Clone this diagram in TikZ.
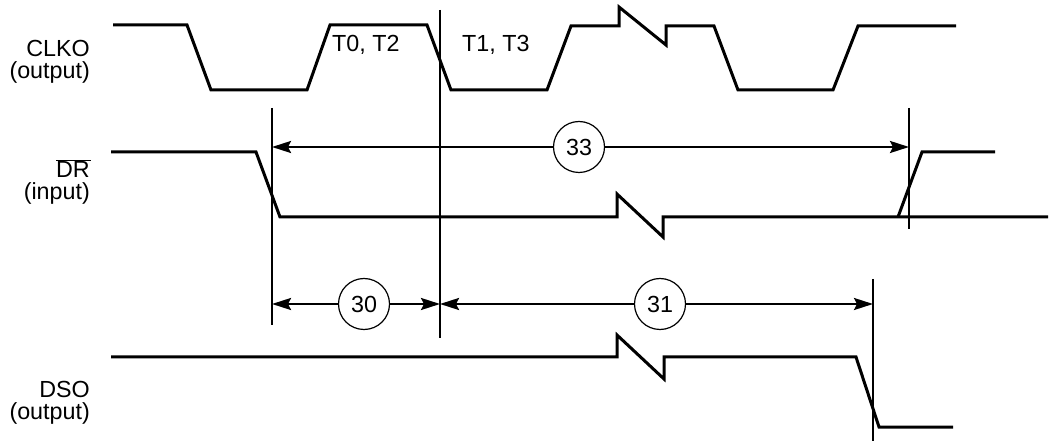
\documentclass[tikz,border=0pt]{standalone}
\usepackage{fontspec}
\setmainfont{Liberation Sans}
\usetikzlibrary{arrows.meta}
\begin{document}
\begin{tikzpicture}[x=1pt,y=-1pt,
  wave/.style={line width=3pt},
  marker/.style={line width=2.6pt},
  dim/.style={line width=2.4pt,-{Stealth[length=19pt,width=12pt,inset=3pt]}},
  lbl/.style={inner sep=0pt,font=\fontsize{23.3}{27}\selectfont},
  num/.style={circle,draw,line width=1.2pt,minimum size=51pt,inner sep=0pt,font=\fontsize{23.3}{27}\selectfont,fill=white}]
\useasboundingbox (0,0) rectangle (1049,443);
% labels
\node[lbl,anchor=base east] (l1) at (90,57) {CLKO};
\node[lbl,anchor=base east] (l2) at (90,79) {(output)};
\node[lbl,anchor=base east] (l3) at (91,178) {$\overline{\hbox{DR\kern1pt}}$};
\node[lbl,anchor=base east] (l4) at (90,200) {(input)};
\node[lbl,anchor=base east] (l5) at (90,397) {DSO};
\node[lbl,anchor=base east] (l6) at (90,419) {(output)};
\node[lbl,anchor=base west] (t02) at (332,52) {T0, T2};
\node[lbl,anchor=base west] (t13) at (462,52) {T1, T3};
% CLKO
\draw[wave] (113,25)--(187,25)--(211,90)--(307,90)--(330,25)--(427,25)--(451,90)--(547,90)--(571,26)--(619,26)--(619,7)--(666,45)--(666,26)--(714,26)--(738,90)--(833,90)--(858,26)--(956,26);
% DR
\draw[wave] (111,152)--(256,152)--(280,217)--(617,217)--(617,194)--(663,237)--(663,217)--(1048,217);
\draw[wave] (898,217)--(922,152)--(995,152);
% DSO
\draw[wave] (111,357)--(617,357)--(617,335)--(664,379)--(664,357)--(856,357)--(879,427)--(953,427);
% marker lines
\coordinate (v1t) at (272,108); \coordinate (v1b) at (272,325);
\coordinate (v2t) at (440,10);  \coordinate (v2b) at (440,338);
\coordinate (v3t) at (909,108); \coordinate (v3b) at (909,229);
\coordinate (v4t) at (873,279); \coordinate (v4b) at (873,441);
\draw[marker] (v1t)--(v1b);
\draw[marker] (v2t)--(v2b);
\draw[marker] (v3t)--(v3b);
\draw[marker] (v4t)--(v4b);
% dimension markers
\node[num] (c33) at (579,147) {33};
\node[num] (c30) at (364,304) {30};
\node[num] (c31) at (660,304) {31};
\draw[dim] (c33.west) -- (v1t |- c33);
\draw[dim] (c33.east) -- (v3t |- c33);
\draw[dim] (c30.west) -- (v1t |- c30);
\draw[dim] (c30.east) -- (v2t |- c30);
\draw[dim] (c31.west) -- (v2t |- c31);
\draw[dim] (c31.east) -- (v4t |- c31);
\end{tikzpicture}
\end{document}
